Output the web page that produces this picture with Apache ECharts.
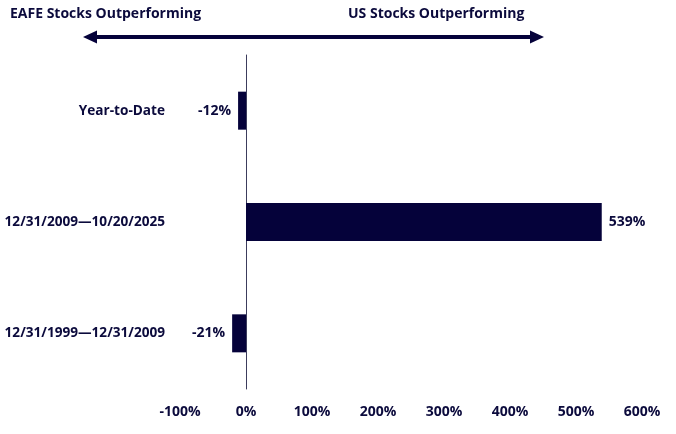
<!DOCTYPE html>
<html>
<head>
<meta charset="utf-8">
<script src="https://cdn.jsdelivr.net/npm/echarts@6/dist/echarts.min.js"></script>
<style>
  html, body { margin: 0; padding: 0; background: #fff; }
  #chart { width: 676px; height: 434px; }
</style>
</head>
<body>
<div id="chart"></div>
<script>
// periods, top to bottom
const periods = ['Year-to-Date', '12/31/2009\u201410/20/2025', '12/31/1999\u201412/31/2009'];
// relative performance, US vs EAFE (%)
const spread = [-12, 539, -21];
const tickMin = -100;
const tickMax = 600;
const tickStep = 100;

const navy = '#0b0a3c';
const barColor = '#05023a';
const font = '"Open Sans", sans-serif';

const chart = echarts.init(document.getElementById('chart'));

const barData = spread.map(v => ({
  value: v,
  label: { position: v < 0 ? 'left' : 'right', distance: 7 }
}));

chart.setOption({
  animation: false,
  textStyle: { fontFamily: font },
  grid: { left: 180, right: 34, top: 55, bottom: 45, containLabel: false, outerBoundsMode: 'none' },
  xAxis: {
    type: 'value',
    min: tickMin,
    max: tickMax,
    interval: tickStep,
    axisLine: { show: false },
    axisTick: { show: false },
    splitLine: { show: false },
    axisLabel: {
      margin: 16,
      color: navy,
      fontFamily: font,
      fontWeight: 'bold',
      fontSize: 14,
      formatter: v => v + '%'
    }
  },
  yAxis: {
    type: 'category',
    inverse: true,
    data: periods,
    axisLine: { show: true, lineStyle: { color: '#3c3c5c', width: 1 } },
    axisTick: { show: false },
    axisLabel: {
      margin: 15,
      color: navy,
      fontFamily: font,
      fontWeight: 'bold',
      fontSize: 13.6
    }
  },
  series: [{
    type: 'bar',
    data: barData,
    barWidth: 38,
    itemStyle: { color: barColor },
    label: {
      show: true,
      color: navy,
      fontFamily: font,
      fontWeight: 'bold',
      fontSize: 14,
      formatter: p => p.value + '%'
    }
  }],
  graphic: [
    {
      type: 'text', left: 10, top: 7,
      style: { text: 'EAFE Stocks Outperforming', fill: navy, font: 'bold 14px ' + font }
    },
    {
      type: 'text', left: 348, top: 7,
      style: { text: 'US Stocks Outperforming', fill: navy, font: 'bold 14px ' + font }
    },
    {
      type: 'line',
      shape: { x1: 92, y1: 37, x2: 536, y2: 37 },
      style: { stroke: barColor, lineWidth: 4 }
    },
    {
      type: 'polygon',
      shape: { points: [[83, 37], [97, 30.5], [97, 43.5]] },
      style: { fill: barColor }
    },
    {
      type: 'polygon',
      shape: { points: [[544, 37], [530, 30.5], [530, 43.5]] },
      style: { fill: barColor }
    }
  ]
});
</script>
</body>
</html>
